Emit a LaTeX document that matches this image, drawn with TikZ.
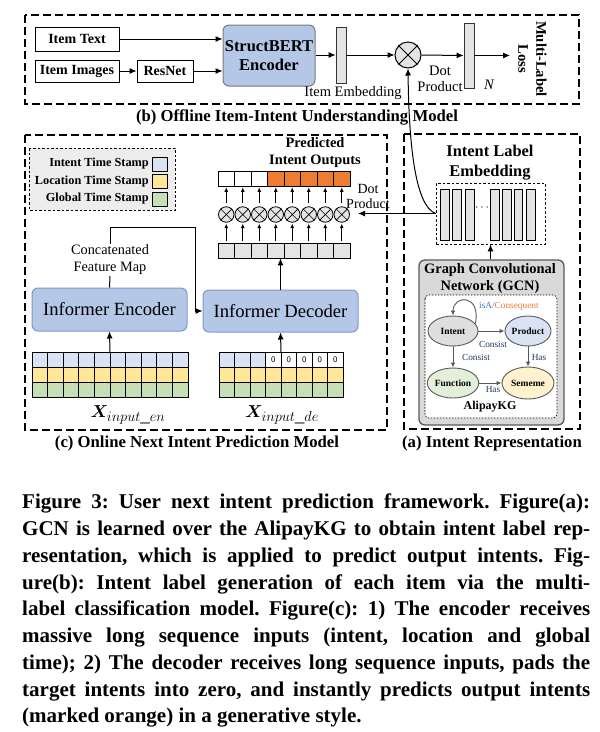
\documentclass[tikz,border=0pt]{standalone}
\usepackage{fontspec}
\setmainfont{Liberation Serif}
\usepackage{bm}
\usetikzlibrary{arrows.meta,shapes.geometric,calc}
\definecolor{encblue}{HTML}{B4C7E7}
\definecolor{encborder}{HTML}{7F98C8}
\definecolor{cblue}{HTML}{DAE3F3}
\definecolor{cyellow}{HTML}{FFE699}
\definecolor{cgreen}{HTML}{C5E0B4}
\definecolor{corange}{HTML}{ED7D31}
\definecolor{cgray}{HTML}{E4E4E4}
\definecolor{legfill}{HTML}{EDEDED}
\definecolor{gcnfill}{HTML}{D9D9D9}
\definecolor{dgray}{HTML}{595959}
\definecolor{navy}{HTML}{1F3864}
\definecolor{isablue}{HTML}{4472C4}
\definecolor{nfunc}{HTML}{E2F0D9}
\definecolor{nsem}{HTML}{FFF2CC}
\newcommand{\fz}[1]{\fontsize{#1}{#1}\selectfont}
\frenchspacing
\begin{document}
\begin{tikzpicture}[x=1pt,y=-1pt,
  plainbox/.style={draw, line width=0.9pt, fill=white, inner sep=0, font=\bfseries\fz{14}},
  bluebox/.style={draw=encborder, line width=1pt, fill=encblue, rounded corners=6pt, inner sep=0},
  barbox/.style={draw=black!80, line width=0.8pt, fill=cgray, inner sep=0},
  arr/.style={-{Latex[length=7pt,width=6pt]}, line width=1pt},
  sarr/.style={-{Latex[length=4.5pt,width=4pt]}, line width=0.8pt},
  garr/.style={-{Latex[length=5pt,width=4.5pt]}, line width=0.9pt, draw=dgray},
  bigdash/.style={dash pattern=on 8pt off 4pt, line width=1.3pt},
  otc/.style={circle, draw, line width=0.8pt, fill=cgray, inner sep=0},
  cell/.style={draw, line width=0.7pt, inner sep=0, minimum width=16.5pt, minimum height=15pt},
  kgnode/.style={ellipse, draw=dgray, line width=0.9pt, inner sep=0, font=\bfseries\fz{9.5}},
  kglab/.style={font=\fz{9.3}, text=navy, inner sep=0},
  capt/.style={font=\bfseries\fz{16.7}, inner sep=0}
]
\useasboundingbox (0,0) rectangle (600,732);
\fill[white] (0,0) rectangle (600,732);

% ---------------- (b) top box ----------------
\draw[bigdash] (25,15) rectangle (579,104);
\node[plainbox, minimum width=84pt, minimum height=24pt] (itemtext) at (77,39) {Item Text};
\node[plainbox, minimum width=84pt, minimum height=22pt] (itemimg) at (77,71) {Item Images};
\node[plainbox, minimum width=56pt, minimum height=22pt] (resnet) at (165,71) {ResNet};
\node[bluebox, draw=dgray!80, minimum width=92pt, minimum height=61pt, align=center, font=\bfseries\fontsize{16.5}{19}\selectfont] (struct) at (269,55.5) {StructBERT\\Encoder};
\node[barbox, minimum width=10pt, minimum height=56pt] (bar1) at (341,55) {};
\node[otc, minimum size=26pt, line width=1pt] (circ) at (408,55) {};
\draw[line width=0.8pt] (circ.45) -- (circ.225) (circ.135) -- (circ.315);
\node[barbox, minimum width=10pt, minimum height=65pt] (bar2) at (469,55.5) {};
\coordinate (lossend) at (510,55.5);
\draw[arr] (itemtext.east) -- (itemtext.east -| struct.west);
\draw[arr] (itemimg.east) -- (resnet.west);
\draw[arr] (resnet.east) -- (resnet.east -| struct.west);
\draw[arr] (struct.east |- bar1.west) -- (bar1.west);
\draw[arr] (bar1.east) -- (circ.west);
\draw[arr] (circ.east) -- (bar2.west);
\draw[arr] (bar2.east) -- (lossend);
\node[rotate=-90, align=center, inner sep=0, font=\bfseries\fontsize{14.7}{18}\selectfont] (loss) at (532.5,59) {Multi-Label\\Loss};
\node[inner sep=0, font=\fz{14.5}] (itememb) at (353,93) {Item Embedding};
\node[inner sep=0, align=center, font=\fontsize{14.5}{16}\selectfont] (dotp1) at (440,79) {Dot\\Product};
\node[inner sep=0, font=\itshape\fz{14.5}] (nlab) at (489,85) {N};
\node[capt] (capb) at (297,117) {(b) Offline Item-Intent Understanding Model};

% ---------------- (c) lower-left box ----------------
\draw[bigdash] (25,135) rectangle (387,430);
\draw[fill=legfill, line width=0.9pt, dash pattern=on 2.5pt off 2pt] (29,148) rectangle (175,210);
\node[anchor=east, inner sep=0, font=\bfseries\fz{12.3}] (lg1) at (149,164) {Intent Time Stamp};
\node[anchor=east, inner sep=0, font=\bfseries\fz{12.3}] (lg2) at (149,181.5) {Location Time Stamp};
\node[anchor=east, inner sep=0, font=\bfseries\fz{12.3}] (lg3) at (149,199) {Global Time Stamp};
\node[draw, line width=0.7pt, fill=cblue, minimum width=15pt, minimum height=14pt, inner sep=0] (sq1) at (159.5,164) {};
\node[draw, line width=0.7pt, fill=cyellow, minimum width=15pt, minimum height=14pt, inner sep=0] (sq2) at (159.5,181.5) {};
\node[draw, line width=0.7pt, fill=cgreen, minimum width=15pt, minimum height=14pt, inner sep=0] (sq3) at (159.5,199) {};

\node[align=center, inner sep=0, font=\bfseries\fontsize{14.4}{17}\selectfont] (predout) at (315,152.5) {Predicted\\Intent Outputs};
\foreach \i in {1,...,8}{
  \ifnum\i<4 \def\cf{white}\else \def\cf{corange}\fi
  \node[cell, fill=\cf] (o\i) at ({209.75+16.5*\i},178.5) {};
  \node[otc, minimum size=15.5pt] (c\i) at ({209.75+16.5*\i},214.5) {};
  \draw[line width=0.7pt] (c\i.45) -- (c\i.225) (c\i.135) -- (c\i.315);
  \node[cell, fill=cgray] (g\i) at ({209.75+16.5*\i},250.5) {};
  \draw[sarr, shorten <=2pt, shorten >=1pt] (g\i.north) -- (c\i.south);
  \draw[sarr, shorten <=3pt, shorten >=1pt] (c\i.north) -- (o\i.south);
}
\node[inner sep=0, align=center, font=\fontsize{14}{15}\selectfont] (dotp2) at (368,196) {Dot\\Product};

\node[bluebox, minimum width=155pt, minimum height=43pt, font=\fz{18.6}] (enc) at (109.5,309.5) {Informer Encoder};
\node[bluebox, minimum width=155pt, minimum height=42pt, font=\fz{18.6}] (dec) at (280.5,311) {Informer Decoder};
\node[inner sep=1pt, align=center, font=\fontsize{14.3}{17}\selectfont] (concat) at (110,260) {Concatenated\\Feature Map};
\draw[line width=1pt] (enc.north) -- (concat.south);
\draw[arr] (concat.north) |- (195,227) -- (195,311) -- (dec.west);
\draw[arr] (dec.north) -- (dec.north |- g1.south);

% encoder grid
\node[minimum width=156pt, minimum height=45pt, inner sep=0] (encgrid) at (110,374.5) {};
\foreach \c in {0,...,9}{
  \draw[line width=0.7pt, fill=cblue] ({32+15.6*\c},352) rectangle ++(15.6,15);
  \draw[line width=0.7pt, fill=cyellow] ({32+15.6*\c},367) rectangle ++(15.6,15);
  \draw[line width=0.7pt, fill=cgreen] ({32+15.6*\c},382) rectangle ++(15.6,15);
}
% decoder grid
\node[minimum width=124pt, minimum height=45pt, inner sep=0] (decgrid) at (281,374.5) {};
\foreach \c in {0,...,7}{
  \ifnum\c<3
    \draw[line width=0.7pt, fill=cblue] ({219+15.5*\c},352) rectangle ++(15.5,15);
  \else
    \draw[line width=0.7pt, fill=white] ({219+15.5*\c},352) rectangle ++(15.5,15);
    \node[inner sep=0, font=\sffamily\fz{8.5}] at ({219+15.5*\c+7.75},359.5) {0};
  \fi
  \draw[line width=0.7pt, fill=cyellow] ({219+15.5*\c},367) rectangle ++(15.5,15);
  \draw[line width=0.7pt, fill=cgreen] ({219+15.5*\c},382) rectangle ++(15.5,15);
}
\draw[arr] (encgrid.north) -- (enc.south);
\draw[arr] (decgrid.north) -- (dec.south);
\node[inner sep=0, font=\fz{19}] (xen) at (128,415) {$\bm{X}_{input\_en}$};
\node[inner sep=0, font=\fz{19}] (xde) at (282,415) {$\bm{X}_{input\_de}$};
\node[capt] (capc) at (197,443) {(c) Online Next Intent Prediction Model};

% ---------------- (a) right box ----------------
\draw[bigdash] (404,134) rectangle (580,429);
\node[align=center, inner sep=0, font=\bfseries\fontsize{16.4}{20}\selectfont] (ilab) at (490,163) {Intent Label\\Embedding};
\node[draw, line width=0.8pt, dash pattern=on 2.5pt off 2pt, minimum width=109pt, minimum height=61pt, inner sep=0] (emb) at (490.5,213.5) {};
\foreach \xa in {440.7,452.3,465.7,490.7,502.3,514,526.7}{
  \draw[line width=0.8pt, fill=cgray] (\xa,189) rectangle ++(8.6,51);
}
\node[inner sep=0, font=\fz{12}] (dots) at (482,208) {$\cdots$};

\node[draw=dgray, line width=1.3pt, fill=gcnfill, rounded corners=6pt, minimum width=145pt, minimum height=165pt, inner sep=0] (gcn) at (491.5,342.5) {};
\node[align=center, inner sep=0, font=\bfseries\fontsize{14.4}{17}\selectfont] (gcnlab) at (490,278.5) {Graph Convolutional\\Network (GCN)};
\draw[fill=white, line width=0.7pt, dash pattern=on 1.5pt off 1.5pt, rounded corners=4pt] (425,295) rectangle (557,418);
\node[kgnode, fill=gcnfill!85, minimum width=50pt, minimum height=30pt] (intent) at (453,331) {Intent};
\node[kgnode, fill=cblue, minimum width=46pt, minimum height=30pt] (product) at (528,331) {Product};
\node[kgnode, fill=nfunc, minimum width=50pt, minimum height=30pt] (function) at (453,383) {Function};
\node[kgnode, fill=nsem, minimum width=52pt, minimum height=32pt] (sememe) at (528,383) {Sememe};
\draw[garr] (intent.18) .. controls (481,293) and (453,295) .. (intent.north);
\draw[garr] (intent.east) -- (product.west);
\draw[garr] (intent.south) -- (function.north);
\draw[garr] (product.south) -- (sememe.north);
\draw[garr] (function.east) -- (sememe.west);
\node[kglab, anchor=west] (isa) at (479,306) {\textcolor{isablue}{isA/}\textcolor{corange}{Consequent}};
\node[kglab] (cons1) at (493,344) {Consist};
\node[kglab] (cons2) at (476,357) {Consist};
\node[kglab] (has1) at (539,357) {Has};
\node[kglab] (has2) at (493,389) {Has};
\node[inner sep=0, font=\bfseries\fz{12}] (akg) at (490,407) {AlipayKG};
\draw[arr] (gcn.north -| emb.south) -- (emb.south);
\node[capt] (capa) at (492,443) {(a) Intent Representation};

% connectors from label embedding
\coordinate (dpend) at (358,213.5);
\draw[arr] (emb.west) -- (dpend);
\draw[arr] (emb.west) .. controls (416,206) and (409,150) .. (circ.south);

% ---------------- caption ----------------
\node[anchor=north west, inner sep=0, text width=568pt, align=justify,
  font=\bfseries\fontsize{21}{26.75}\selectfont] (caption) at (22,494)
{\frenchspacing\hyphenpenalty=10000\tolerance=9999 Figure 3: User next intent prediction framework. Figure(a):\linebreak
GCN is learned over the AlipayKG to obtain intent label rep-\linebreak
resentation, which is applied to predict output intents. Fig-\linebreak
ure(b): Intent label generation of each item via the multi-\linebreak
label classification model. Figure(c): 1) The encoder receives\linebreak
massive long sequence inputs (intent, location and global\linebreak
time); 2) The decoder receives long sequence inputs, pads the\linebreak
target intents into zero, and instantly predicts output intents\linebreak
(marked orange) in a generative style.};
\end{tikzpicture}
\end{document}
